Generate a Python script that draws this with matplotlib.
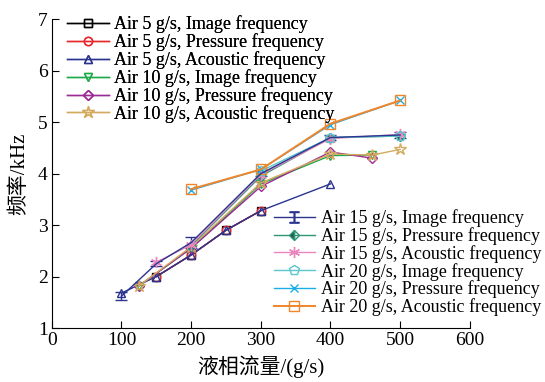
import matplotlib
matplotlib.use('Agg')
import matplotlib.pyplot as plt
from matplotlib.lines import Line2D

plt.rcParams['font.family'] = ['Liberation Serif', 'Noto Sans CJK SC']
plt.rcParams['mathtext.fontset'] = 'stix'

# Air 5 g/s
a5_img_x = [150, 200, 250, 300]
a5_img_y = [2.0, 2.42, 2.9, 3.28]
a5_prs_x = [150, 200, 250, 300]
a5_prs_y = [2.0, 2.42, 2.9, 3.28]
a5_aco_x = [100, 150, 200, 250, 300, 400]
a5_aco_y = [1.68, 2.0, 2.42, 2.9, 3.28, 3.8]
# Air 10 g/s
a10_img_x = [125, 200, 300, 400, 460]
a10_img_y = [1.82, 2.55, 3.8, 4.35, 4.36]
a10_prs_x = [125, 200, 300, 400, 460]
a10_prs_y = [1.82, 2.55, 3.75, 4.42, 4.3]
a10_aco_x = [125, 200, 300, 400, 460, 500]
a10_aco_y = [1.82, 2.58, 3.82, 4.38, 4.36, 4.47]
# Air 15 g/s
a15_img_x = [100, 150, 200, 300, 400, 500]
a15_img_y = [1.62, 2.25, 2.66, 4.0, 4.7, 4.75]
a15_img_err = [0.08, 0.05, 0.1, 0.05, 0.05, 0.05]
a15_prs_x = [200, 300, 400, 500]
a15_prs_y = [2.6, 3.95, 4.7, 4.73]
a15_aco_x = [150, 200, 300, 400, 500]
a15_aco_y = [2.28, 2.62, 3.98, 4.68, 4.76]
# Air 20 g/s
a20_img_x = [300, 400, 500]
a20_img_y = [4.05, 4.7, 4.73]
a20_prs_x = [200, 300, 400, 500]
a20_prs_y = [3.68, 4.08, 4.95, 5.42]
a20_aco_x = [200, 300, 400, 500]
a20_aco_y = [3.7, 4.08, 4.97, 5.42]

fig = plt.figure(figsize=(5.45, 3.82), dpi=100)
ax = fig.add_axes([0.095, 0.141, 0.767, 0.809])

ms = 6
lw = 1.0
h1 = []
h1.append(ax.plot(a5_img_x, a5_img_y, color='black', marker='s', mfc='none', ms=ms, lw=lw,
                  label='Air 5 g/s, Image frequency')[0])
h1.append(ax.plot(a5_prs_x, a5_prs_y, color='#e8262b', marker='o', mfc='none', ms=ms, lw=lw,
                  label='Air 5 g/s, Pressure frequency')[0])
h1.append(ax.plot(a5_aco_x, a5_aco_y, color='#2b3590', marker='^', mfc='none', ms=ms, lw=lw,
                  label='Air 5 g/s, Acoustic frequency')[0])
h1.append(ax.plot(a10_img_x, a10_img_y, color='#1daa4a', marker='v', mfc='none', ms=ms, lw=lw,
                  label='Air 10 g/s, Image frequency')[0])
h1.append(ax.plot(a10_prs_x, a10_prs_y, color='#9b2a96', marker='D', mfc='none', ms=5.5, lw=lw,
                  label='Air 10 g/s, Pressure frequency')[0])
h1.append(ax.plot(a10_aco_x, a10_aco_y, color='#d4aa5e', marker='*', mfc='none', ms=9, lw=lw,
                  label='Air 10 g/s, Acoustic frequency')[0])

eb = ax.errorbar(a15_img_x, a15_img_y, yerr=a15_img_err, color='#2b3590', lw=lw,
                 capsize=4, elinewidth=1.0)
h2 = [Line2D([], [], color='#2b3590', marker='$\u2336$', ms=8, lw=lw)]
h2.append(ax.plot(a15_prs_x, a15_prs_y, color='#2e9577', marker='D', fillstyle='left',
                  markerfacecoloralt='none', mfc='#1f5e4c', ms=5.5, lw=lw)[0])
h2.append(ax.plot(a15_aco_x, a15_aco_y, color='#ea86bd', marker=(6, 2, 0), ms=8, lw=lw)[0])
h2.append(ax.plot(a20_img_x, a20_img_y, color='#5bc6cc', marker='p', mfc='none', ms=7, lw=lw)[0])
h2.append(ax.plot(a20_prs_x, a20_prs_y, color='#1aaee6', marker='x', ms=6, lw=lw)[0])
h2.append(ax.plot(a20_aco_x, a20_aco_y, color='#f0852a', marker='s', mfc='none', ms=7, lw=1.4)[0])
labels2 = ['Air 15 g/s, Image frequency', 'Air 15 g/s, Pressure frequency',
           'Air 15 g/s, Acoustic frequency', 'Air 20 g/s, Image frequency',
           'Air 20 g/s, Pressure frequency', 'Air 20 g/s, Acoustic frequency']

ax.set_xlim(0, 600)
ax.set_ylim(1, 7)
ax.set_xticks([0, 100, 200, 300, 400, 500, 600])
ax.set_yticks([1, 2, 3, 4, 5, 6, 7])
ax.spines['top'].set_visible(False)
ax.spines['right'].set_visible(False)
ax.tick_params(direction='in', labelsize=14, length=5, pad=3)
ax.set_xlabel('液相流量/(g/s)', fontsize=15, labelpad=4)
ax.set_ylabel('频率/kHz', fontsize=15, labelpad=6)

leg1 = ax.legend(handles=h1, loc='upper left', bbox_to_anchor=(0.02, 1.035), frameon=False,
                 fontsize=13, labelspacing=0.0, handlelength=2.3, handletextpad=0.3,
                 borderaxespad=0)
ax.add_artist(leg1)
fig.legend(handles=h2, labels=labels2, loc='lower right', bbox_to_anchor=(1.006, 0.153),
           frameon=False, fontsize=13, labelspacing=0.0, handlelength=2.3,
           handletextpad=0.3, borderaxespad=0)

fig.savefig('out.png', dpi=100)
